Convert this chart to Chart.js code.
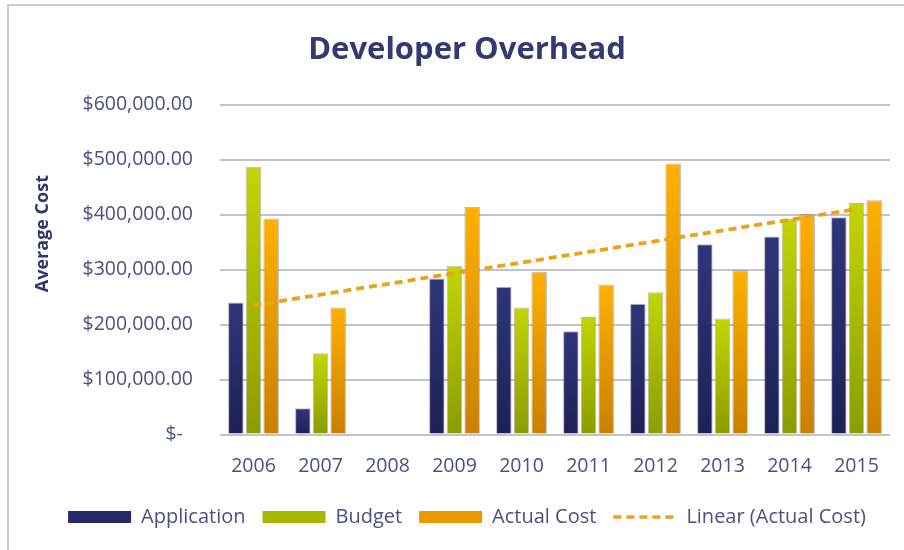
<!DOCTYPE html>
<html>
<head>
<meta charset="utf-8">
<title>Developer Overhead</title>
<script src="https://cdn.jsdelivr.net/npm/chart.js@4.4.1/dist/chart.umd.min.js"></script>
<style>
  html, body { margin: 0; padding: 0; background: #ffffff; }
  #wrap { position: relative; width: 904px; height: 550px; overflow: hidden; }
  #wrap canvas { position: absolute; left: 0; top: 0; }
  /* the document frame the chart sits in */
  #frame {
    position: absolute; left: 7px; top: 4px; right: -4px; bottom: -4px;
    border-left: 2px solid #c9cad8; border-top: 2px solid #c9cad8;
    pointer-events: none;
  }
</style>
</head>
<body>
<div id="wrap">
  <canvas id="overheadChart" width="904" height="550"></canvas>
  <div id="frame"></div>
</div>
<script>
// ── Data ───────────────────────────────────────────────────────────────────
const categories  = ['2006', '2007', '2008', '2009', '2010', '2011', '2012', '2013', '2014', '2015'];
const application = [240000, 48000, null, 284000, 269000, 188000, 238000, 346000, 360000, 395000];
const budget      = [487000, 148000, null, 307000, 231000, 214000, 259000, 211000, 392000, 421000];
const actualCost  = [393000, 231000, null, 414000, 296000, 273000, 493000, 299000, 401000, 426000];
// linear trend of Actual Cost, only its two ends as seen in the picture
const trendLine   = [235000, null, null, null, null, null, null, null, null, 410000];

const yTicks = [0, 100000, 200000, 300000, 400000, 500000, 600000];

// ── Colours ────────────────────────────────────────────────────────────────
const NAVY   = { top: '#2f357b', bottom: '#1e2155', flat: '#262a68' };
const GREEN  = { top: '#c3d505', bottom: '#8b9c00', flat: '#a6b800' };
const ORANGE = { top: '#ffb000', bottom: '#c98000', flat: '#ea9a00' };
const TREND  = '#e9a41c';
const TEXT   = '#4a5080';
const TITLE  = '#323a72';
const FONT   = '"Open Sans"';

// vertical gradient over each single bar (light top -> dark base)
function barGradient(c) {
    return ctx => {
        const chart = ctx.chart;
        const y = chart.scales.y;
        if (ctx.type !== 'data' || !y || ctx.raw == null) return c.flat;
        const yTop  = y.getPixelForValue(ctx.raw);
        const yBase = y.getPixelForValue(0);
        if (!isFinite(yTop) || !isFinite(yBase) || yTop === yBase) return c.flat;
        const g = chart.ctx.createLinearGradient(0, yTop, 0, yBase);
        g.addColorStop(0, c.top);
        g.addColorStop(1, c.bottom);
        return g;
    };
}

function money(v) {
    if (v === 0) return '$-  ';
    return '$' + v.toFixed(2).replace(/\B(?=(\d{3})+(?!\d))/g, ',');
}

const barCommon = {
    borderWidth: 1,
    borderColor: 'rgba(100,100,110,0.45)',
    categoryPercentage: 0.79,
    barPercentage: 0.88,
    order: 1
};

const legendFill = [NAVY.flat, GREEN.flat, ORANGE.flat];

const ctx = document.getElementById('overheadChart').getContext('2d');
const chart = new Chart(ctx, {
    type: 'bar',
    data: {
        labels: categories,
        datasets: [
            { label: 'Application', data: application, backgroundColor: barGradient(NAVY), ...barCommon },
            { label: 'Budget', data: budget, backgroundColor: barGradient(GREEN), ...barCommon },
            { label: 'Actual Cost', data: actualCost, backgroundColor: barGradient(ORANGE), ...barCommon },
            {
                type: 'line',
                label: 'Linear (Actual Cost)',
                data: trendLine,
                borderColor: TREND,
                backgroundColor: 'transparent',
                borderWidth: 3.8,
                borderDash: [8, 5],
                pointRadius: 0,
                spanGaps: true,
                tension: 0,
                order: 0
            }
        ]
    },
    options: {
        responsive: false,
        animation: false,
        layout: { padding: { left: 30, right: 0, top: 16, bottom: 13 } },
        plugins: {
            title: {
                display: true,
                text: 'Developer Overhead',
                color: TITLE,
                font: { family: FONT, size: 31, weight: 'bold' },
                padding: { top: 15.4, bottom: 36 }
            },
            legend: {
                position: 'bottom',
                labels: {
                    color: TEXT,
                    font: { family: FONT, size: 20 },
                    usePointStyle: true,
                    pointStyleWidth: 63,
                    boxHeight: 12,
                    padding: 17,
                    sort: (a, b) => a.datasetIndex - b.datasetIndex,
                    generateLabels: ch => {
                        const items = Chart.defaults.plugins.legend.labels.generateLabels(ch);
                        items.forEach(it => {
                            if (it.datasetIndex === 3) {
                                it.pointStyle = 'line';
                                it.strokeStyle = TREND;
                                it.lineWidth = 3.5;
                                it.lineDash = [8, 5];
                            } else {
                                it.pointStyle = 'rect';
                                it.fillStyle = legendFill[it.datasetIndex];
                                it.lineWidth = 0;
                            }
                        });
                        return items;
                    }
                }
            },
            tooltip: { enabled: false }
        },
        scales: {
            x: {
                grid: { display: false },
                border: { display: false },
                ticks: { color: TEXT, font: { family: FONT, size: 19.5 }, padding: 12 }
            },
            y: {
                min: 0,
                max: 600000,
                afterBuildTicks: s => { s.ticks = yTicks.map(v => ({ value: v })); },
                afterFit: s => { s.width = 190; },
                grid: { color: '#c3c3cc', lineWidth: 2, drawTicks: false },
                border: { display: false },
                ticks: { color: TEXT, font: { family: FONT, size: 19.5 }, padding: 27, callback: v => money(v) },
                title: {
                    display: true,
                    // leading em spaces lift the words above the middle, as in the picture
                    text: '\u2003\u2003\u2003\u2003Average Cost',
                    color: '#2e3670',
                    font: { family: FONT, size: 18, weight: 'bold' },
                    padding: { top: 2, bottom: 0 }
                }
            },
            // empty right-hand strip so the plot stops where the picture's does
            yRight: {
                position: 'right',
                grid: { display: false },
                border: { display: false },
                ticks: { display: false },
                afterFit: s => { s.width = 14; }
            }
        }
    }
});
</script>
</body>
</html>
